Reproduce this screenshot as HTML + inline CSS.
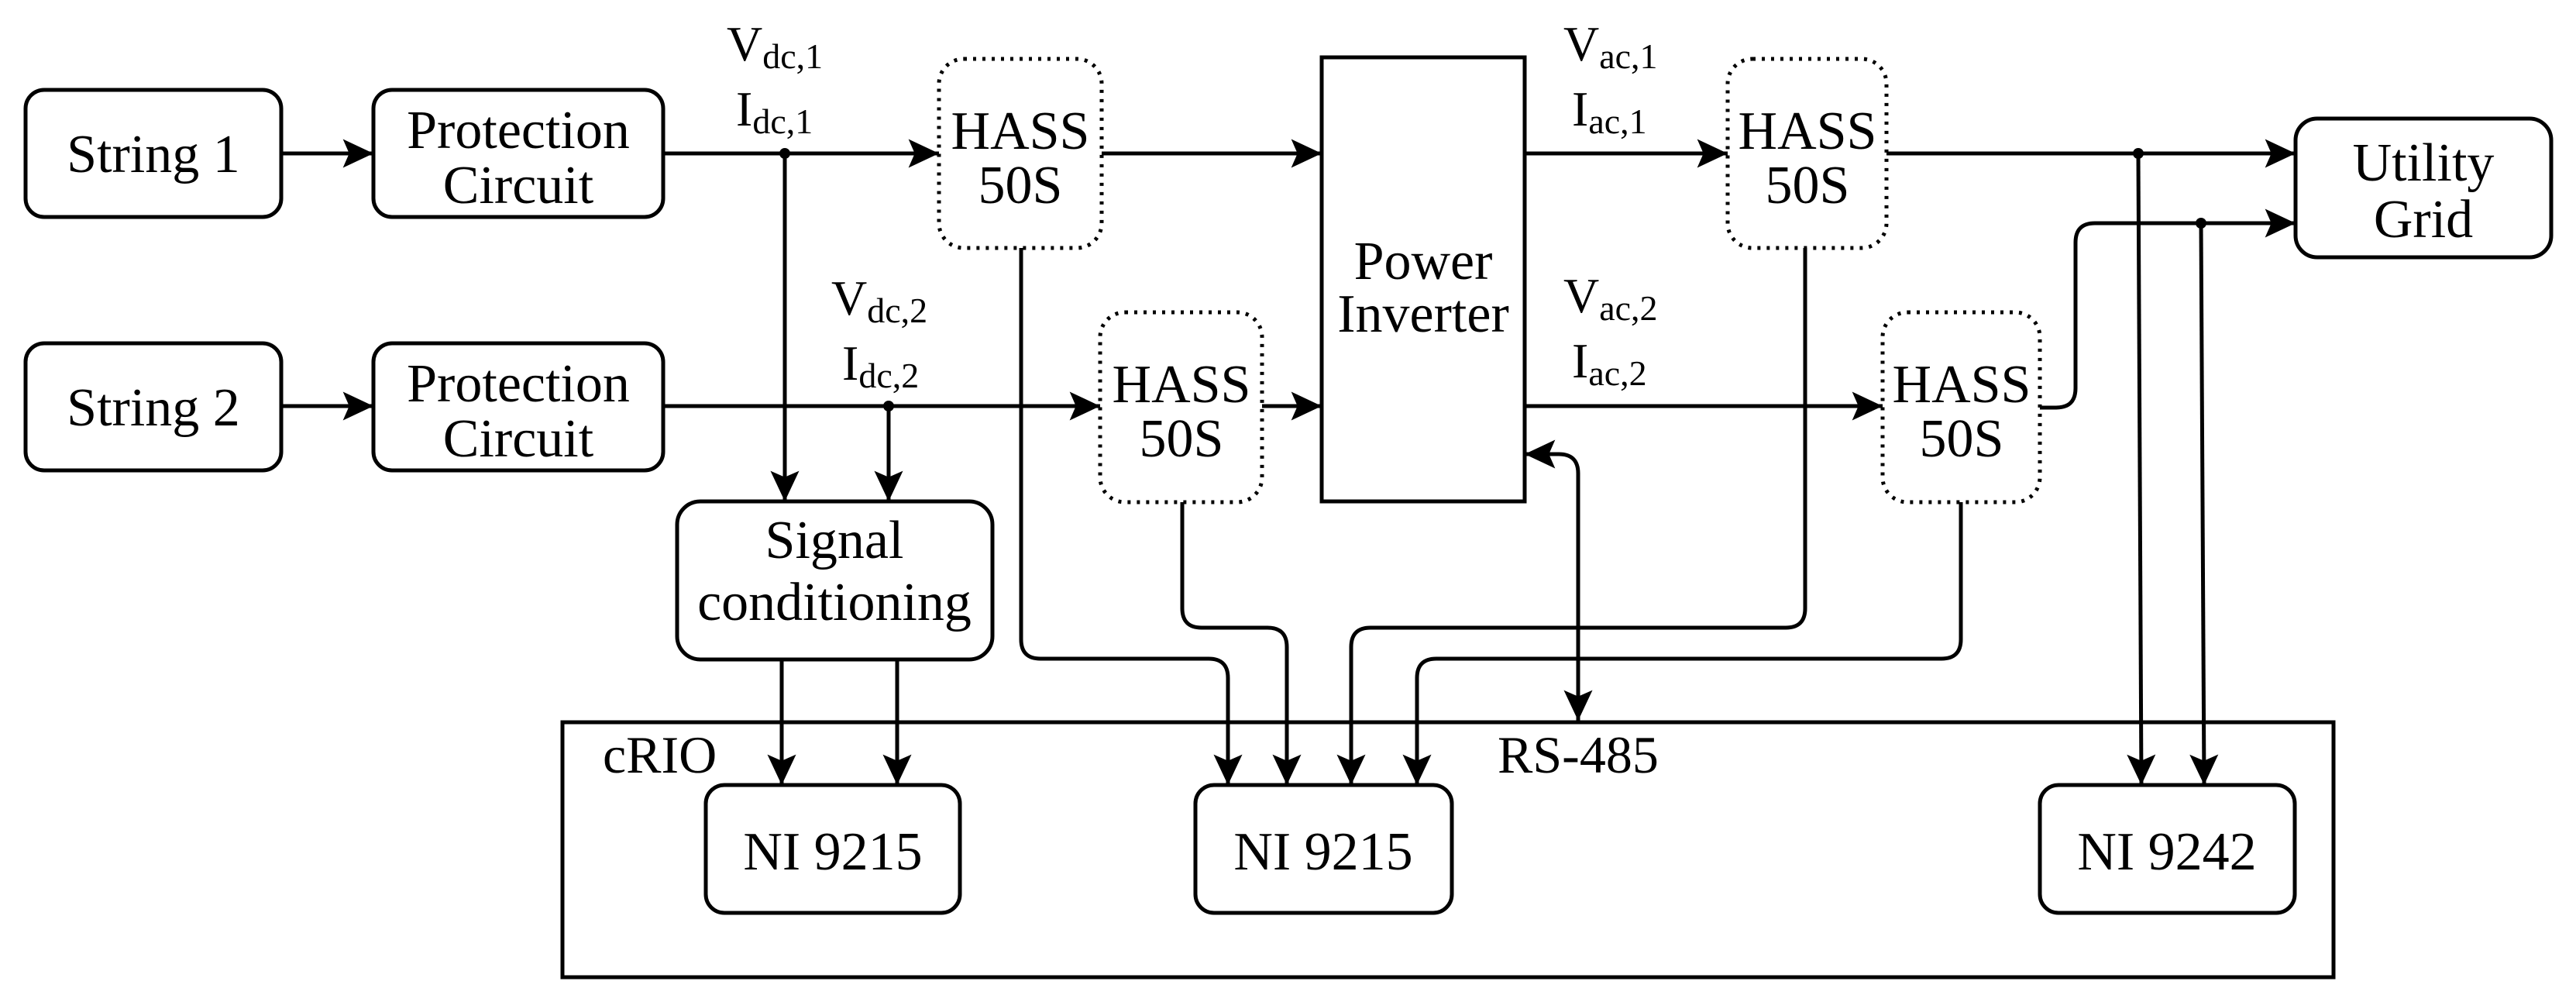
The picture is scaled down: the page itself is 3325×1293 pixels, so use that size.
<!DOCTYPE html>
<html><head><meta charset="utf-8"><style>
html,body{margin:0;padding:0;background:#fff}
svg{display:block}
svg text{font-family:"Liberation Serif","DejaVu Serif",serif !important;fill:#000}
.b{font-size:70px;text-anchor:middle}
.l{font-size:64px}
.s{font-size:46px}
</style></head><body>
<svg width="3325" height="1293" viewBox="0 0 3325 1293" xmlns="http://www.w3.org/2000/svg" font-family="Liberation Serif, DejaVu Serif, serif">
<defs>
<marker id="a" markerUnits="userSpaceOnUse" markerWidth="44" markerHeight="44" viewBox="-36 -18 38 36" refX="0" refY="0" orient="auto-start-reverse">
<path d="M0,0 L-34,-16 L-27,0 L-34,16 Z" fill="#000"/>
</marker>
</defs>
<g fill="none" stroke="#000" stroke-width="5">
<rect x="33" y="116" width="330" height="164" rx="24"/>
<rect x="482" y="116" width="374" height="164" rx="24"/>
<rect x="33" y="443" width="330" height="164" rx="24"/>
<rect x="482" y="443" width="374" height="164" rx="24"/>
<rect x="874" y="647" width="407" height="204" rx="30"/>
<rect x="1706" y="74" width="262" height="573"/>
<rect x="2963" y="153" width="330" height="179" rx="28"/>
<rect x="726" y="932" width="2286" height="329"/>
<rect x="911" y="1013" width="328" height="165" rx="24"/>
<rect x="1543" y="1013" width="331" height="165" rx="24"/>
<rect x="2633" y="1013" width="329" height="165" rx="24"/>
</g>
<g fill="none" stroke="#000" stroke-width="5" stroke-dasharray="4 8">
<rect x="1212" y="76" width="210" height="244" rx="32"/>
<rect x="1420" y="403" width="209" height="245" rx="32"/>
<rect x="2230" y="76" width="205" height="244" rx="32"/>
<rect x="2430" y="403" width="203" height="245" rx="32"/>
</g>
<g fill="none" stroke="#000" stroke-width="5">
<path d="M363,198 H482" marker-end="url(#a)"/>
<path d="M856,198 H1212" marker-end="url(#a)"/>
<path d="M1013,198 V647" marker-end="url(#a)"/>
<path d="M363,524 H482" marker-end="url(#a)"/>
<path d="M856,524 H1420" marker-end="url(#a)"/>
<path d="M1147,524 V647" marker-end="url(#a)"/>
<path d="M1422,198 H1706" marker-end="url(#a)"/>
<path d="M1629,524 H1706" marker-end="url(#a)"/>
<path d="M1009,851 V1013" marker-end="url(#a)"/>
<path d="M1158,851 V1013" marker-end="url(#a)"/>
<path d="M1318,320 V825 Q1318,850 1343,850 H1560 Q1585,850 1585,875 V1013" marker-end="url(#a)"/>
<path d="M1526,648 V785 Q1526,810 1551,810 H1636 Q1661,810 1661,835 V1013" marker-end="url(#a)"/>
<path d="M1968,198 H2230" marker-end="url(#a)"/>
<path d="M1968,524 H2430" marker-end="url(#a)"/>
<path d="M2435,198 H2963" marker-end="url(#a)"/>
<path d="M2633,526 H2654 Q2679,526 2679,501 V313 Q2679,288 2704,288 H2963" marker-end="url(#a)"/>
<path d="M2760,198 L2764,1013" marker-end="url(#a)"/>
<path d="M2841,288 L2845,1013" marker-end="url(#a)"/>
<path d="M2330,320 V785 Q2330,810 2305,810 H1769 Q1744,810 1744,835 V1013" marker-end="url(#a)"/>
<path d="M2531,648 V825 Q2531,850 2506,850 H1854 Q1829,850 1829,875 V1013" marker-end="url(#a)"/>
<path d="M1968,586 H2012 Q2037,586 2037,611 V930" marker-start="url(#a)" marker-end="url(#a)"/>
</g>
<g fill="#000">
<circle cx="1013" cy="198" r="7"/>
<circle cx="1147" cy="524" r="7"/>
<circle cx="2760" cy="198" r="7"/>
<circle cx="2841" cy="288" r="7"/>
</g>
<g font-family="Liberation Serif, DejaVu Serif, serif">
<text class="b" x="198" y="222">String 1</text>
<text class="b" x="198" y="549">String 2</text>
<text class="b" x="669" y="191">Protection</text>
<text class="b" x="669" y="262">Circuit</text>
<text class="b" x="669" y="518">Protection</text>
<text class="b" x="669" y="589">Circuit</text>
<text class="b" x="1317" y="192">HASS</text>
<text class="b" x="1317" y="262">50S</text>
<text class="b" x="1525" y="519">HASS</text>
<text class="b" x="1525" y="589">50S</text>
<text class="b" x="2333" y="192">HASS</text>
<text class="b" x="2333" y="262">50S</text>
<text class="b" x="2532" y="519">HASS</text>
<text class="b" x="2532" y="589">50S</text>
<text class="b" x="1837" y="360">Power</text>
<text class="b" x="1837" y="428">Inverter</text>
<text class="b" x="3128" y="233">Utility</text>
<text class="b" x="3128" y="306">Grid</text>
<text class="b" x="1077" y="720">Signal</text>
<text class="b" x="1077" y="800">conditioning</text>
<text class="b" x="1075" y="1122">NI 9215</text>
<text class="b" x="1708" y="1122">NI 9215</text>
<text class="b" x="2797" y="1122">NI 9242</text>
<text class="l" x="778" y="997" style="font-size:68px">cRIO</text>
<text class="l" x="1933" y="997" style="font-size:68px">RS-485</text>
<text class="l" x="938" y="78">V<tspan class="s" dy="10">dc,1</tspan></text>
<text class="l" x="950" y="162">I<tspan class="s" dy="10">dc,1</tspan></text>
<text class="l" x="1073" y="406">V<tspan class="s" dy="10">dc,2</tspan></text>
<text class="l" x="1087" y="490">I<tspan class="s" dy="10">dc,2</tspan></text>
<text class="l" x="2018" y="78">V<tspan class="s" dy="10">ac,1</tspan></text>
<text class="l" x="2029" y="162">I<tspan class="s" dy="10">ac,1</tspan></text>
<text class="l" x="2018" y="403">V<tspan class="s" dy="10">ac,2</tspan></text>
<text class="l" x="2029" y="487">I<tspan class="s" dy="10">ac,2</tspan></text>
</g>
</svg>
</body></html>
